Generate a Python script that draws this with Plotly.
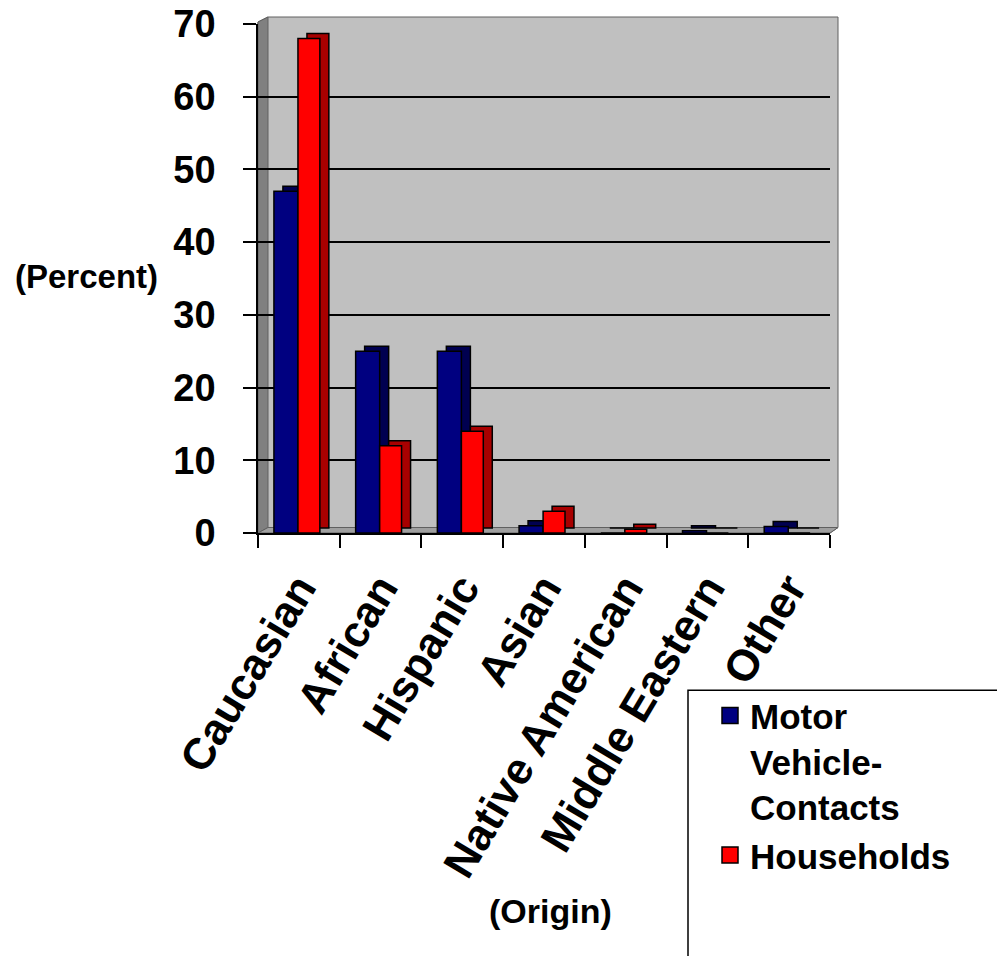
import plotly.graph_objects as go

categories = ["Caucasian", "African", "Hispanic", "Asian", "Native American", "Middle Eastern", "Other"]
motor_vehicle = [47, 25, 25, 1, 0, 0.3, 0.9]
households = [68, 12, 14, 3, 0.5, 0, 0]
series_names = ["Motor<br>Vehicle-<br>Contacts", "Households"]
y_ticks = [0, 10, 20, 30, 40, 50, 60, 70]

W, H = 997, 956
SL, SR, ST, SB = 258, 830, 24, 533.5   # plot area in pixels
L, R, T, B = SL, SR, ST, SB

def px(x):
    return (x - SL) / (SR - SL)

def py(y):
    return (SB - y) / (SB - ST)

FONT = "Arial, 'Liberation Sans', sans-serif"
DEPTH_Y = 0.69
DX = 0.11

fig = go.Figure()

common = dict(x=categories, marker_line_color="black", marker_line_width=1.5,
              showlegend=False, hoverinfo="skip")
# depth (side/top) faces
fig.add_trace(go.Bar(y=motor_vehicle, base=DEPTH_Y, offset=-0.305 + DX, width=0.294,
                     marker_color="#000050", **common))
fig.add_trace(go.Bar(y=households, base=DEPTH_Y, offset=-0.011 + DX, width=0.268,
                     marker_color="#A80000", **common))
# front faces
fig.add_trace(go.Bar(y=motor_vehicle, offset=-0.305, width=0.294, marker_color="#000080",
                     x=categories, marker_line_color="black", marker_line_width=1.5,
                     showlegend=False, name="Motor Vehicle-Contacts"))
fig.add_trace(go.Bar(y=households, offset=-0.011, width=0.268, marker_color="#FF0000",
                     x=categories, marker_line_color="black", marker_line_width=1.5,
                     showlegend=False, name="Households"))

# legend entries
for name, col in zip(series_names, ["#000080", "#FF0000"]):
    fig.add_trace(go.Scatter(x=[None], y=[None], mode="markers", name=name,
                             marker=dict(symbol="square", size=20, color=col,
                                         line=dict(color="black", width=1.5))))

shapes = [
    # back wall
    dict(type="path", xref="paper", yref="paper", layer="below",
         path=f"M {px(258)},{py(22)} L {px(268)},{py(17)} L {px(838)},{py(17)} L {px(838)},{py(528)} "
              f"L {px(830)},{py(533.5)} L {px(258)},{py(533.5)} Z",
         fillcolor="#C0C0C0", line=dict(color="#606060", width=1)),
    # left side wall
    dict(type="path", xref="paper", yref="paper", layer="below",
         path=f"M {px(258)},{py(533.5)} L {px(258)},{py(22)} L {px(268)},{py(17)} L {px(268)},{py(528)} Z",
         fillcolor="#808080", line=dict(color="#606060", width=1)),
    # floor
    dict(type="path", xref="paper", yref="paper", layer="below",
         path=f"M {px(258)},{py(533.5)} L {px(268)},{py(528)} L {px(838)},{py(528)} L {px(830)},{py(533.5)} Z",
         fillcolor="#A0A0A0", line=dict(color="#606060", width=1)),
    # legend box
    dict(type="rect", xref="paper", yref="paper", layer="below",
         x0=px(688), x1=px(1010), y0=py(970), y1=py(691),
         line=dict(color="black", width=1.5), fillcolor="white"),
]

fig.update_layout(
    width=W, height=H,
    margin=dict(l=L, r=W - R, t=T, b=H - B, pad=0, autoexpand=False),
    paper_bgcolor="white",
    plot_bgcolor="rgba(0,0,0,0)",
    barmode="overlay",
    shapes=shapes,
    font=dict(family=FONT, color="black"),
    xaxis=dict(type="category", categoryorder="array", categoryarray=categories,
               tickson="boundaries", ticks="outside", ticklen=13, tickwidth=2, tickcolor="black",
               showline=True, linecolor="black", linewidth=1.5, showgrid=False,
               automargin=False, ticklabelstandoff=10,
               tickangle=-59, tickfont=dict(family=FONT, size=44, weight="bold", color="black"),
               range=[-0.5, 6.5]),
    yaxis=dict(range=[0, 70], tickvals=y_ticks, ticks="outside", ticklen=13, tickwidth=2,
               tickcolor="black", showline=True, linecolor="black", linewidth=1.5,
               automargin=False, ticklabelstandoff=20, ticklabeloverflow="allow",
               showgrid=True, gridcolor="black", gridwidth=2, zeroline=False,
               tickfont=dict(family=FONT, size=38, weight="bold", color="black")),
    legend=dict(x=px(710), y=py(687), xanchor="left", yanchor="top",
                bgcolor="rgba(0,0,0,0)", borderwidth=0, valign="top",
                font=dict(family=FONT, size=35, weight="bold", color="black"),
                tracegroupgap=0, itemsizing="trace"),
    annotations=[
        dict(text="(Percent)", xref="paper", yref="paper", x=px(86), y=py(277),
             xanchor="center", yanchor="middle",
             showarrow=False, font=dict(family=FONT, size=33, weight="bold", color="black")),
        dict(text="(Origin)", xref="paper", yref="paper", x=px(550), y=py(912),
             xanchor="center", yanchor="middle",
             showarrow=False, font=dict(family=FONT, size=34, weight="bold", color="black")),
    ],
)

fig.write_html("out.html",
               config={"displayModeBar": False},
               post_script="document.body.style.margin='0';document.body.style.overflow='hidden';")
